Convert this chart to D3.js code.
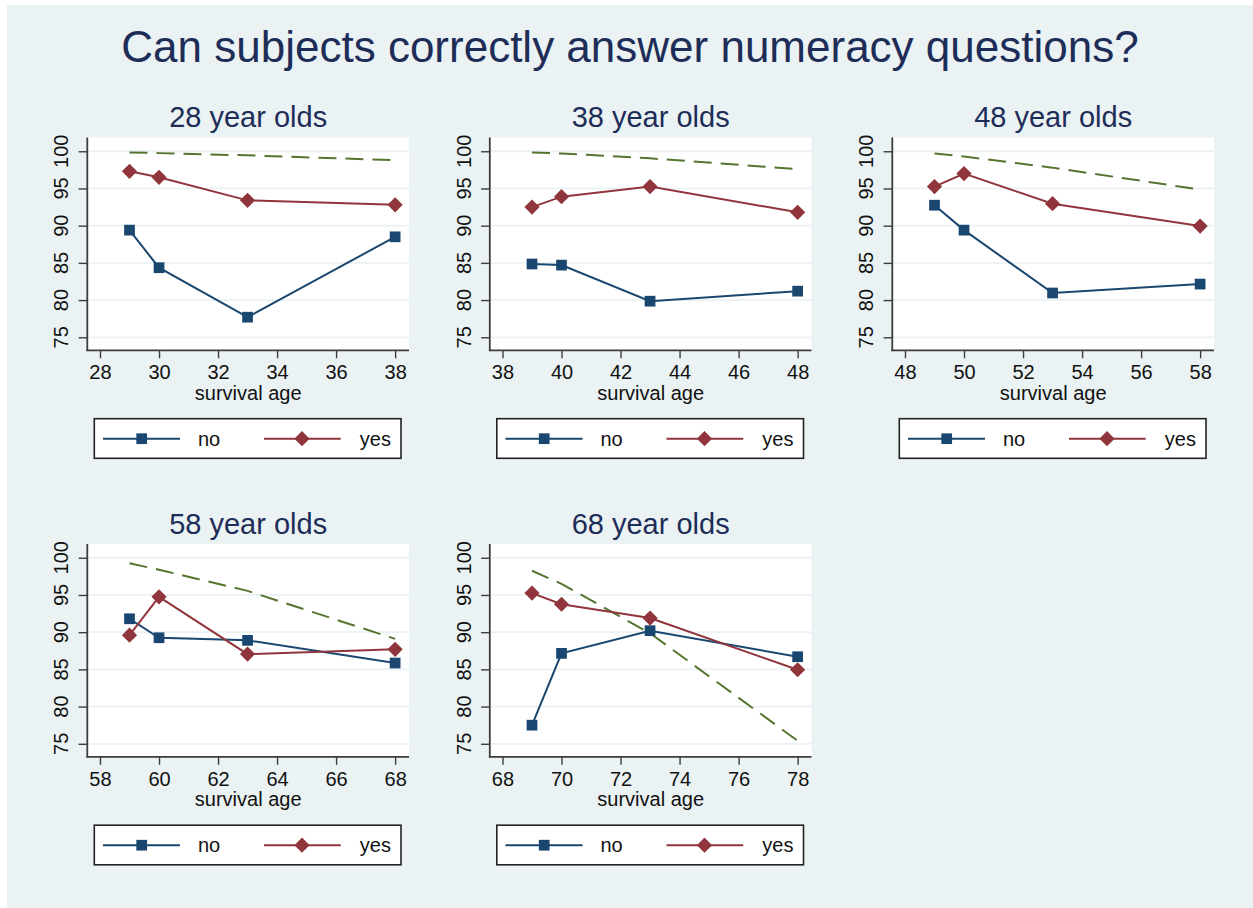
<!DOCTYPE html>
<html>
<head>
<meta charset="utf-8">
<script src="https://cdn.jsdelivr.net/npm/d3@7"></script>
<style>
  body { margin: 0; background: #fff; }
  text { font-family: "Liberation Sans", Arial, sans-serif; }
</style>
</head>
<body>
<div id="chart"></div>
<script>
// data
const mainTitle = "Can subjects correctly answer numeracy questions?";
const cohorts = [28, 38, 48, 58, 68];
const panelTitles = ["28 year olds", "38 year olds", "48 year olds", "58 year olds", "68 year olds"];
const survivalAges = [
    [29, 30, 33, 38],
    [39, 40, 43, 48],
    [49, 50, 53, 58],
    [59, 60, 63, 68],
    [69, 70, 73, 78]
];
const noValues = [
    [89.4, 84.35, 77.7, 88.5],
    [84.85, 84.7, 79.85, 81.2],
    [92.75, 89.4, 80.95, 82.15],
    [91.8, 89.25, 88.9, 85.85],
    [77.5, 87.15, 90.2, 86.7]
];
const yesValues = [
    [97.3, 96.5, 93.4, 92.8],
    [92.5, 93.9, 95.25, 91.8],
    [95.25, 97.0, 92.95, 89.95],
    [89.6, 94.75, 87.05, 87.7],
    [95.25, 93.75, 91.9, 84.95]
];
const refValues = [
    [99.85, 99.75, 99.45, 98.8],
    [99.85, 99.7, 99.05, 97.6],
    [99.7, 99.3, 97.8, 94.85],
    [99.25, 98.4, 95.55, 89.1],
    [98.25, 96.5, 89.85, 75.4]
];
const yTicks = [75, 80, 85, 90, 95, 100];
const xTickSteps = [0, 2, 4, 6, 8, 10];
const legendLabels = ["no", "yes"];

const width = 1253;
const height = 908;
const navy = "#1a476f";
const maroon = "#90353b";
const green = "#55752f";
const bg = "#eaf2f3";
const titleColor = "#1e2d58";

const svg = d3.select("#chart")
    .append("svg")
    .attr("width", width)
    .attr("height", height);

svg.append("rect")
    .attr("x", 7)
    .attr("y", 5)
    .attr("width", width - 7)
    .attr("height", height - 5)
    .attr("fill", bg);

svg.append("text")
    .attr("x", 630)
    .attr("y", 62)
    .attr("text-anchor", "middle")
    .attr("font-size", "44px")
    .attr("fill", titleColor)
    .text(mainTitle);

const plotW = 321.7;
const plotH = 212.8;

const square = d3.symbol().type(d3.symbolSquare).size(115);

function diamond(g, cx, cy, r) {
    g.append("path")
        .attr("d", `M${cx},${cy - r}L${cx + r},${cy}L${cx},${cy + r}L${cx - r},${cy}Z`)
        .attr("fill", maroon);
}

cohorts.forEach((base, i) => {
    const col = i % 3;
    const row = Math.floor(i / 3);
    const left = 87.3 + col * 402.5;
    const top = 137.5 + row * 406.5;

    const g = svg.append("g")
        .attr("transform", `translate(${left},${top})`);

    const x = d3.scaleLinear()
        .domain([base - 0.43, base + 10.47])
        .range([0, plotW]);

    const y = d3.scaleLinear()
        .domain([73.25, 101.85])
        .range([plotH, 0]);

    // panel title
    g.append("text")
        .attr("x", plotW / 2)
        .attr("y", -10.5)
        .attr("text-anchor", "middle")
        .attr("font-size", "29px")
        .attr("fill", titleColor)
        .text(panelTitles[i]);

    g.append("rect")
        .attr("width", plotW)
        .attr("height", plotH)
        .attr("fill", "white");

    // grid
    g.append("g")
        .selectAll("line")
        .data(yTicks)
        .enter()
        .append("line")
        .attr("x1", 0)
        .attr("x2", plotW)
        .attr("y1", d => y(d))
        .attr("y2", d => y(d))
        .attr("stroke", bg)
        .attr("stroke-width", 1.8);

    // y axis
    const yAxis = g.append("g")
        .call(d3.axisLeft(y).tickValues(yTicks).tickSize(8.7).tickPadding(0).tickFormat(""));
    yAxis.select(".domain").remove();
    yAxis.selectAll("line").attr("stroke", "#3d3d3d").attr("stroke-width", 1.4);
    g.append("line")
        .attr("x1", 0).attr("x2", 0)
        .attr("y1", 0).attr("y2", plotH + 0.8)
        .attr("stroke", "#3d3d3d")
        .attr("stroke-width", 1.8);

    g.append("g")
        .selectAll("text")
        .data(yTicks)
        .enter()
        .append("text")
        .attr("transform", d => `translate(-19,${y(d)}) rotate(-90)`)
        .attr("text-anchor", "middle")
        .attr("font-size", "20px")
        .attr("fill", "#111")
        .text(d => d);

    // x axis
    const xTicks = xTickSteps.map(s => base + s);
    const xAxis = g.append("g")
        .attr("transform", `translate(0,${plotH})`)
        .call(d3.axisBottom(x).tickValues(xTicks).tickSize(8).tickPadding(7));
    xAxis.select(".domain").remove();
    xAxis.selectAll("line").attr("stroke", "#3d3d3d").attr("stroke-width", 1.4);
    xAxis.selectAll("text")
        .attr("font-size", "20px")
        .attr("font-family", "Liberation Sans, Arial, sans-serif")
        .attr("fill", "#111");
    g.append("line")
        .attr("x1", -0.9).attr("x2", plotW)
        .attr("y1", plotH).attr("y2", plotH)
        .attr("stroke", "#3d3d3d")
        .attr("stroke-width", 1.8);

    g.append("text")
        .attr("x", plotW / 2)
        .attr("y", plotH + 49.3)
        .attr("text-anchor", "middle")
        .attr("font-size", "20px")
        .attr("fill", "#111")
        .text("survival age");

    const ages = survivalAges[i];
    const line = d3.line()
        .x((d, j) => x(ages[j]))
        .y(d => y(d));

    g.append("path")
        .datum(refValues[i])
        .attr("d", line)
        .attr("fill", "none")
        .attr("stroke", green)
        .attr("stroke-width", 2)
        .attr("stroke-dasharray", "18,9");

    g.append("path")
        .datum(noValues[i])
        .attr("d", line)
        .attr("fill", "none")
        .attr("stroke", navy)
        .attr("stroke-width", 2);

    g.append("path")
        .datum(yesValues[i])
        .attr("d", line)
        .attr("fill", "none")
        .attr("stroke", maroon)
        .attr("stroke-width", 2);

    g.selectAll(".sq")
        .data(noValues[i])
        .enter()
        .append("path")
        .attr("class", "sq")
        .attr("transform", (d, j) => `translate(${x(ages[j])},${y(d)})`)
        .attr("d", square)
        .attr("fill", navy);

    yesValues[i].forEach((v, j) => diamond(g, x(ages[j]), y(v), 7.6));

    // legend
    const lg = g.append("g")
        .attr("transform", `translate(0,${plotH})`);
    lg.append("rect")
        .attr("x", 7)
        .attr("y", 68.4)
        .attr("width", 306.7)
        .attr("height", 39.6)
        .attr("fill", "white")
        .attr("stroke", "#222")
        .attr("stroke-width", 1.6);

    lg.append("line")
        .attr("x1", 15.7).attr("x2", 92.7)
        .attr("y1", 88.4).attr("y2", 88.4)
        .attr("stroke", navy)
        .attr("stroke-width", 2);
    lg.append("path")
        .attr("transform", "translate(54.4,88.4)")
        .attr("d", square)
        .attr("fill", navy);
    lg.append("text")
        .attr("x", 110.7)
        .attr("y", 95.7)
        .attr("font-size", "20px")
        .attr("fill", "#111")
        .text(legendLabels[0]);

    lg.append("line")
        .attr("x1", 176.7).attr("x2", 253.4)
        .attr("y1", 88.4).attr("y2", 88.4)
        .attr("stroke", maroon)
        .attr("stroke-width", 2);
    diamond(lg, 214.7, 88.4, 7.6);
    lg.append("text")
        .attr("x", 303.7)
        .attr("y", 95.7)
        .attr("text-anchor", "end")
        .attr("font-size", "20px")
        .attr("fill", "#111")
        .text(legendLabels[1]);
});
</script>
</body>
</html>
